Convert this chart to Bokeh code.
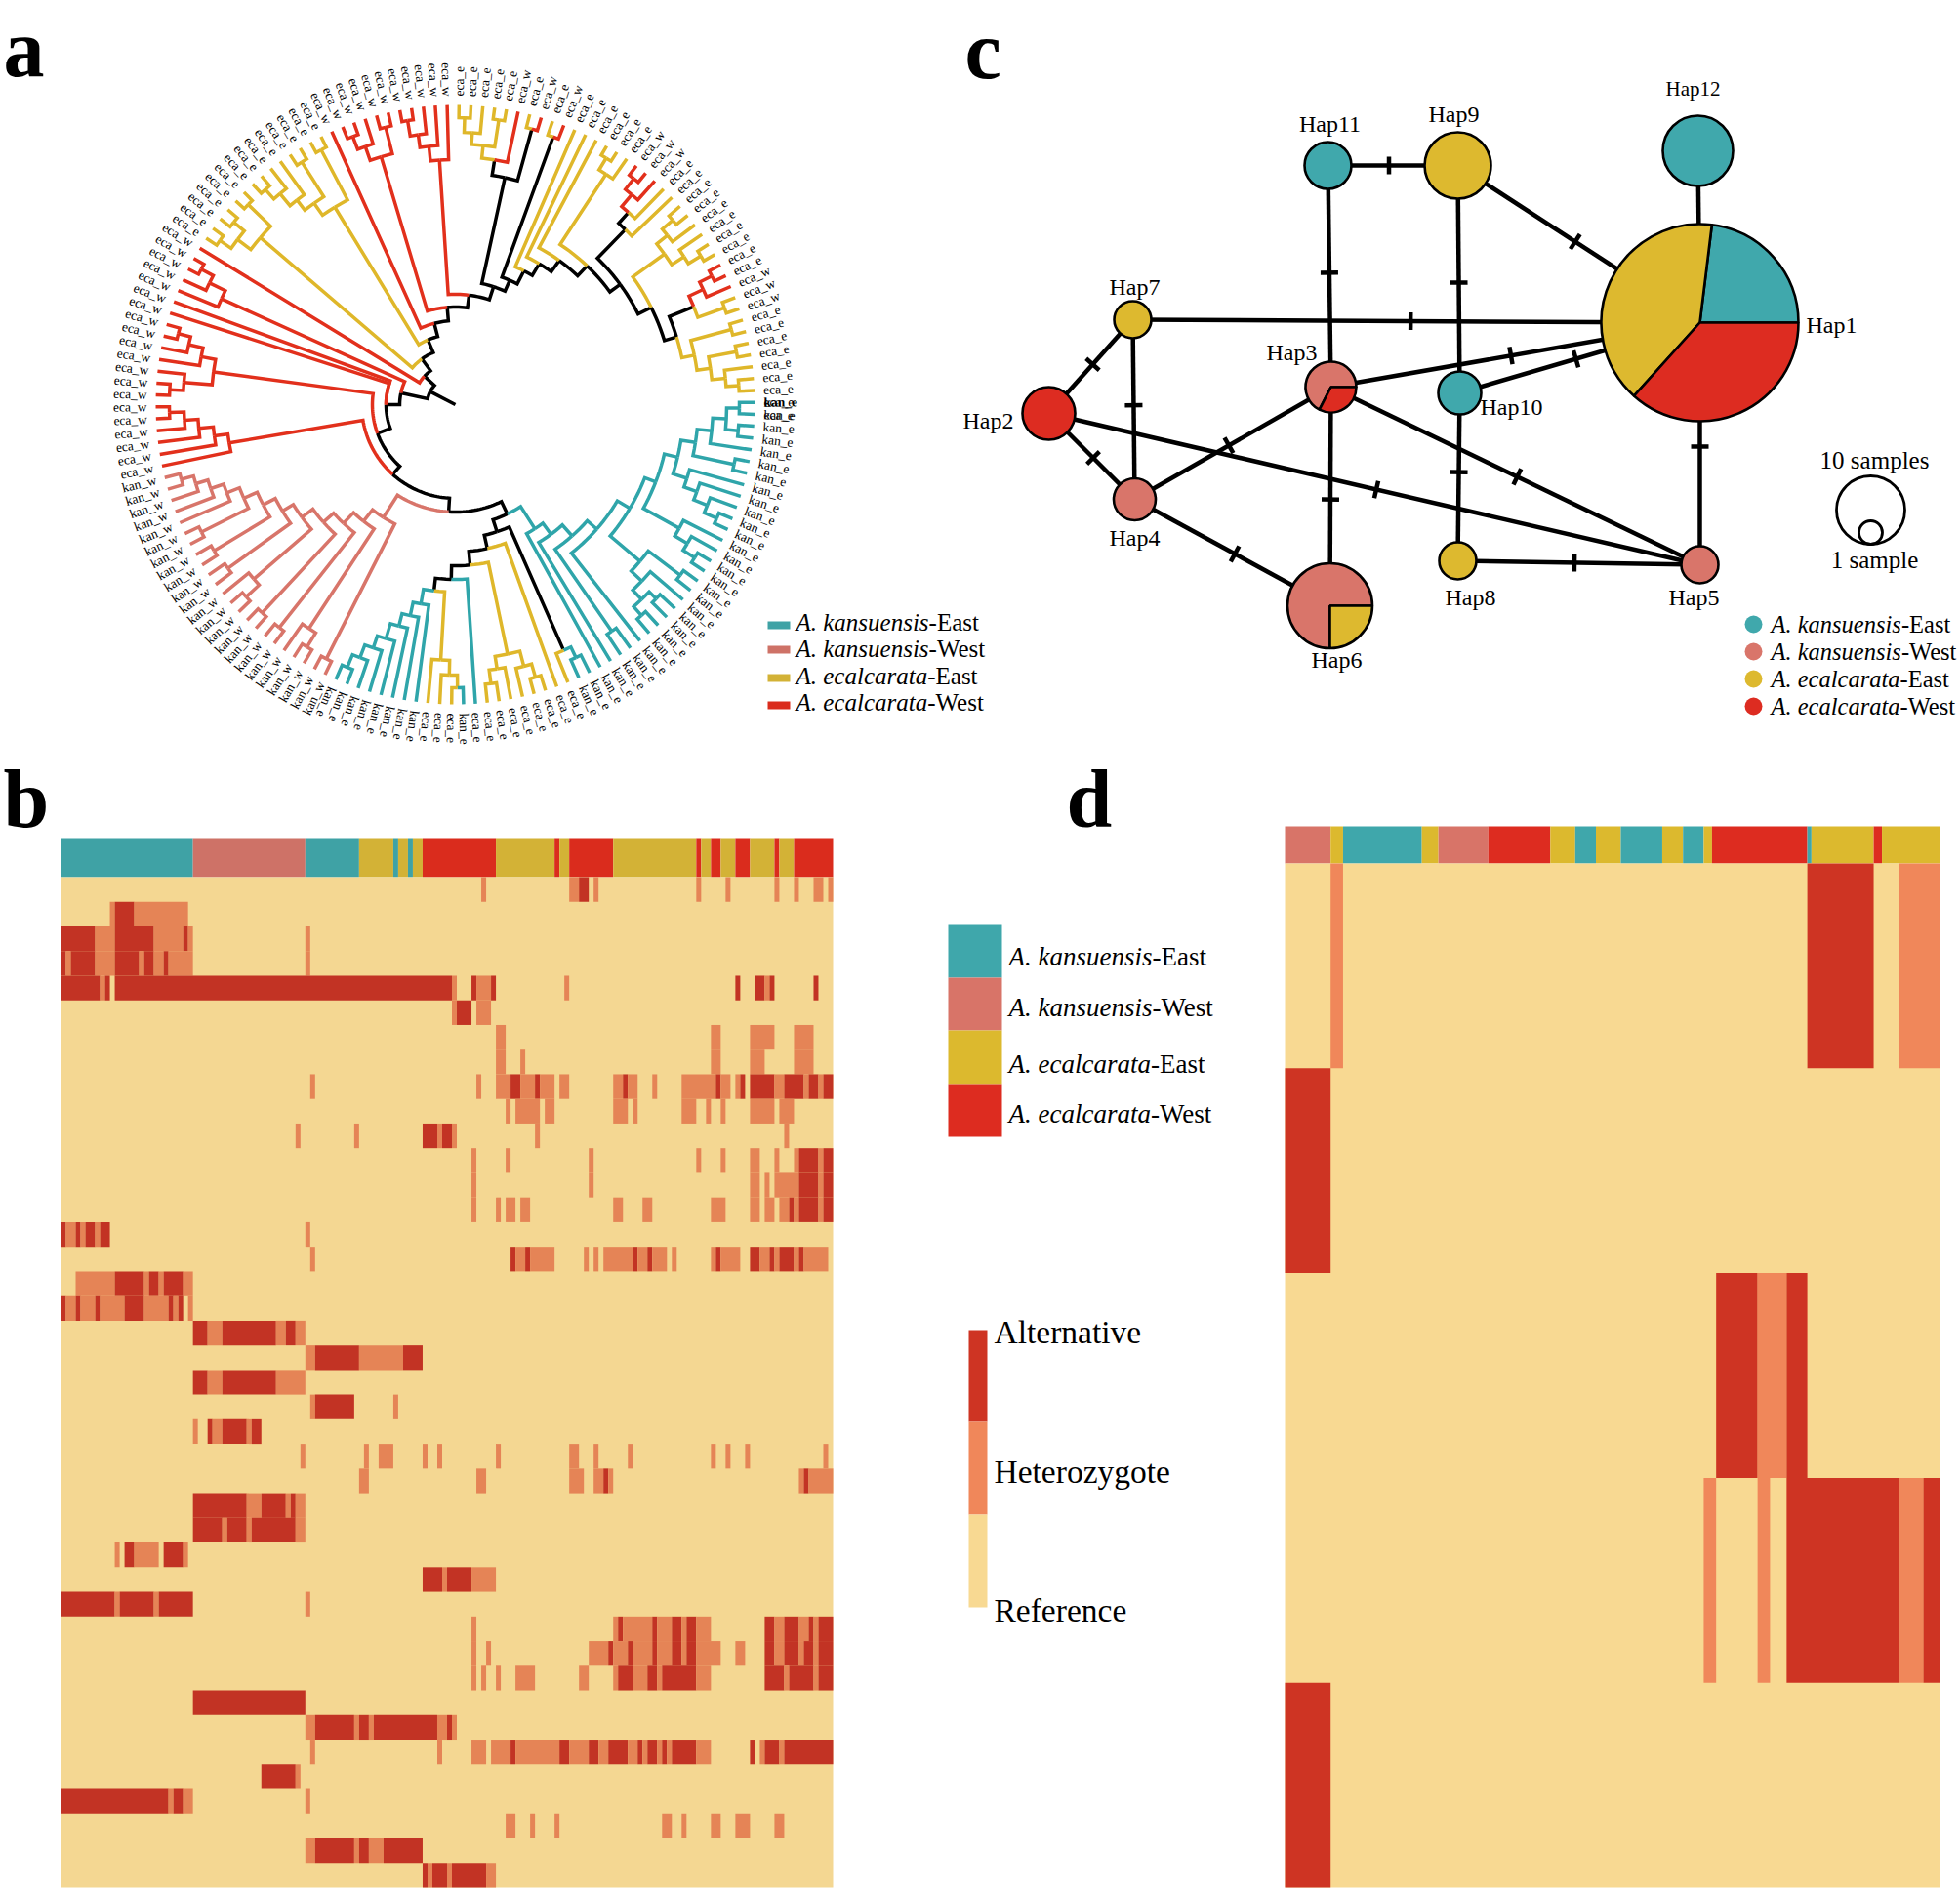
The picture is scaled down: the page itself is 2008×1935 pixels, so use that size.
import math
from bokeh.plotting import figure
from bokeh.models import Range1d
from bokeh.core.properties import value
from bokeh.embed import file_html
from bokeh.resources import INLINE

# ------------------------------------------------------------------ colours
TREE_COL = {"k": "#2FA5AA", "p": "#D8756A", "y": "#DFB72A", "r": "#E2301C", "b": "#000000"}
NET_COL = {"k": "#40A8AC", "p": "#D9756A", "y": "#DDB92F", "r": "#DD2C21"}
B_BAR_COL = {"k": "#3FA2A5", "p": "#CE7267", "y": "#D3B236", "r": "#DA2C1D"}
D_BAR_COL = {"k": "#3FA7AB", "p": "#D87468", "y": "#DCB92E", "r": "#DD2C20"}
B_STATE = {"R": "#F4D792", "H": "#E58456", "A": "#C23324"}
D_STATE = {"R": "#F8D992", "H": "#F0875A", "A": "#CE3423"}
SERIF = "Liberation Serif"

# ------------------------------------------------------------------ panel a: tree (depth, colour, children...; a bare colour is a leaf)
A_BLOCK = [264, "k", [278, "k", [291, "k", "k", "k"], [291, "k", "k", "k"]], "k"]
B_BLOCK = [249, "k", A_BLOCK, [292, "k", "k", "k"]]
D_BLOCK = [249, "k", "k", [263, "k", "k", [278, "k", "k", [292, "k", "k", "k"]]]]
E_BLOCK = [234, "k", B_BLOCK, D_BLOCK]
F_BLOCK = [262, "k", "k", [277, "k", "k", [291, "k", "k", "k"]]]
H_BLOCK = [248, "k", [289, "k", "k", "k"],
           [263, "k", "k", [276, "k", [286, "k", "k", "k"], [288, "k", "k", "k"]]]]
TEAL_MAIN = [151, "k",
             [165, "k",
              [180, "k",
               [193, "k",
                [208, "k", [220, "k", E_BLOCK, F_BLOCK], H_BLOCK],
                "k"],
               [282, "k", "k", "k"]],
              "k"],
             "k"]
N1_BLOCK = [275, "b", [287, "k", "k", "k"], "y"]
K_BLOCK = [261, "y",
           [277, "y", [291, "y", "y", "y"], "y"],
           [274, "y", "y", [288, "y", "y", "y"]]]
J_BLOCK = [262, "y", [277, "y", [290, "y", "k", "y"], "y"], "y"]
M_BLOCK = [207, "k", "k", [221, "k", "k", [234, "k", "k", [250, "k", "k",
           [263, "k", "k", [277, "k", "k", [291, "k", "k", "k"]]]]]]]
S2_BLOCK = [137, "b", N1_BLOCK,
            [151, "b", "y",
             [165, "b", K_BLOCK,
              [179, "b", "k",
               [192, "b", J_BLOCK, M_BLOCK]]]]]
PINK_MAIN = [137, "p", [292, "p", "p", "p"],
             [152, "p", [274, "p", [291, "p", "p", "p"], "p"],
              [167, "p", [291, "p", "p", "p"],
               [181, "p", [291, "p", "p", "p"],
                [195, "p", [273, "p", [291, "p", "p", "p"], "p"],
                 [208, "p", [287, "p", "p", "p"],
                  [222, "p", [289, "p", "p", "p"],
                   [237, "p", [291, "p", "p", "p"],
                    [251, "p", "p",
                     [265, "p", "p",
                      [278, "p", "p", [291, "p", "p", "p"]]]]]]]]]]]]
RED_COMB = [235, "r", "r", [249, "r", "r", [264, "r", "r", [278, "r", "r", [293, "r", "r", "r"]]]]]
RED_E = [250, "r", [279, "r", [293, "r", "r", "r"], "r"],
         [265, "r", "r", [280, "r", "r", [293, "r", "r", "r"]]]]
RED_B = [263, "r", "r", [281, "r", "r", [295, "r", "r", "r"]]]
LOWER = [57, "b",
         [71, "b",
          [85, "b",
           [96, "b",
            [110, "b", [124, "b", TEAL_MAIN, S2_BLOCK], PINK_MAIN],
            RED_COMB],
           RED_E],
          "r", "r"],
         RED_B]
Y1_BLOCK = [263, "y", [280, "y", [294, "y", "y", "y"], [294, "y", "y", "y"]], [295, "y", "y", "y"]]
Y2_BLOCK = [237, "y",
            [252, "y",
             [265, "y", [281, "y", [294, "y", "y", "y"], "y"], "y"],
             [294, "y", "y", "y"]],
            [295, "y", "y", "y"]]
W1_BLOCK = [265, "r", [280, "r", [294, "r", "r", "r"], "r"], [293, "r", "r", "r"]]
W2_BLOCK = [251, "r", [266, "r", [279, "r", [295, "r", "r", "r"], "r"], "r"], "r"]
PA_BLOCK = [238, "b",
            [254, "b",
             [267, "y", [279, "y", [294, "y", "y", "y"], "y"], [295, "y", "y", "y"]],
             "r"],
            [293, "b", "y", "r"]]
CY_BLOCK = [282, "y", [296, "y", "y", "y"], "y"]
MIX_BLOCK = [250, "b",
             [265, "b", [281, "r", [295, "r", "r", "r"], "r"], "y"],
             "y"]
C1_BLOCK = [264, "y",
            [278, "y", [292, "y", "y", "y"], "y"],
            [279, "y", "y", [294, "y", "y", "y"]]]
MIX2_BLOCK = [264, "b", [280, "r", [294, "r", "r", "r"], "r"], [293, "y", "y", "y"]]
C3_BLOCK = [250, "y", [293, "y", "y", "y"],
            [264, "y", [293, "y", "y", "y"], [278, "y", "y", [291, "y", "y", "y"]]]]
UPPER = [43, "b", "r",
         [58, "b", Y1_BLOCK,
          [72, "b", Y2_BLOCK,
           [86, "b", "r",
            [100, "b", W1_BLOCK,
             [113, "b", W2_BLOCK,
              [127, "b", PA_BLOCK,
               [139, "b", [292, "b", "y", "r"],
                [154, "b", "y",
                 [168, "b", "y",
                  [182, "b", "y",
                   [196, "b", CY_BLOCK,
                    [209, "b", MIX_BLOCK,
                     [224, "b", C1_BLOCK,
                      [237, "b", MIX2_BLOCK, C3_BLOCK]]]]]]]]]]]]]]]
TREE = [29, "b", LOWER, UPPER]
# labels, as runs of (text, count), clockwise from east
LABEL_RUNS = [("kan_e", 30), ("eca_e", 9), ("kan_e", 1), ("eca_e", 3), ("kan_e", 8), ("kan_w", 23),
              ("eca_w", 20), ("eca_e", 14), ("eca_w", 11), ("eca_e", 5), ("eca_w", 1), ("eca_e", 1),
              ("eca_w", 1), ("eca_e", 1), ("eca_w", 1), ("eca_e", 6), ("eca_w", 3), ("eca_e", 10),
              ("eca_w", 3), ("eca_e", 9)]
SPECIES = [("A. kansuensis", "-East", "k", "p"), ("A. kansuensis", "-West", "p", "p"),
           ("A. ecalcarata", "-East", "y", "y"), ("A. ecalcarata", "-West", "r", "r")]

# ------------------------------------------------------------------ panel b: heat map (start col, end col, state)
B_TOP = [("k", 0, 27), ("p", 27, 50), ("k", 50, 61), ("y", 61, 68), ("k", 68, 69), ("y", 69, 71), ("k", 71, 72),
         ("y", 72, 74), ("r", 74, 89), ("y", 89, 101), ("r", 101, 102), ("y", 102, 104), ("r", 104, 113),
         ("y", 113, 130), ("r", 130, 131), ("y", 131, 133), ("r", 133, 135), ("y", 135, 138), ("r", 138, 141),
         ("y", 141, 146), ("r", 146, 147), ("y", 147, 150), ("r", 150, 158)]
B_ROWS = [
 [(86,87,"H"),(104,106,"H"),(106,108,"A"),(109,110,"H"),(130,131,"H"),(136,137,"H"),(146,147,"H"),(150,151,"H"),(154,156,"H"),(157,158,"H")],
 [(10,11,"H"),(11,15,"A"),(15,26,"H")],
 [(0,7,"A"),(7,11,"H"),(11,19,"A"),(19,25,"H"),(25,26,"A"),(26,27,"H"),(50,51,"H")],
 [(0,1,"A"),(1,2,"H"),(2,7,"A"),(7,11,"H"),(11,16,"A"),(16,17,"H"),(17,19,"A"),(19,21,"H"),(21,22,"A"),(22,27,"H"),(50,51,"H")],
 [(0,8,"A"),(8,9,"H"),(9,10,"A"),(11,80,"A"),(80,81,"H"),(84,85,"A"),(85,88,"H"),(88,89,"A"),(103,104,"H"),(138,139,"A"),(142,144,"A"),(144,145,"H"),(145,146,"A"),(154,155,"A")],
 [(80,81,"H"),(81,84,"A"),(85,88,"H")],
 [(89,91,"H"),(133,135,"H"),(141,146,"H"),(150,154,"H")],
 [(89,91,"H"),(94,95,"H"),(133,135,"H"),(141,144,"H"),(150,154,"H")],
 [(51,52,"H"),(85,86,"H"),(89,92,"H"),(92,94,"A"),(94,97,"H"),(97,98,"A"),(98,101,"H"),(102,104,"H"),(113,115,"H"),(115,116,"A"),(116,118,"H"),(121,122,"H"),(127,134,"H"),(134,135,"A"),(135,137,"H"),(138,139,"H"),(139,140,"A"),(141,146,"A"),(146,148,"H"),(148,152,"A"),(152,153,"H"),(153,155,"A"),(155,156,"H"),(156,158,"A")],
 [(91,92,"H"),(93,98,"H"),(99,101,"H"),(113,116,"H"),(117,118,"H"),(127,130,"H"),(132,133,"H"),(135,136,"H"),(141,146,"H"),(147,150,"H")],
 [(48,49,"H"),(60,61,"H"),(74,77,"A"),(77,78,"H"),(78,80,"A"),(80,81,"H"),(97,98,"H"),(148,149,"H")],
 [(84,85,"H"),(91,92,"H"),(108,109,"H"),(130,131,"H"),(135,136,"H"),(141,143,"H"),(146,147,"H"),(150,151,"H"),(151,155,"A"),(155,156,"H"),(156,158,"A")],
 [(84,85,"H"),(108,109,"H"),(141,143,"H"),(144,145,"H"),(146,151,"H"),(151,155,"A"),(155,156,"H"),(156,158,"A")],
 [(84,85,"H"),(89,90,"H"),(91,93,"H"),(94,96,"H"),(113,115,"H"),(119,121,"H"),(133,136,"H"),(141,143,"H"),(144,146,"H"),(147,149,"H"),(149,150,"A"),(150,151,"H"),(151,155,"A"),(155,156,"H"),(156,158,"A")],
 [(0,1,"A"),(1,3,"H"),(3,4,"A"),(4,5,"H"),(5,7,"A"),(7,8,"H"),(8,10,"A"),(50,51,"H")],
 [(51,52,"H"),(92,93,"A"),(93,95,"H"),(95,96,"A"),(96,101,"H"),(107,108,"H"),(109,110,"H"),(111,117,"H"),(117,118,"A"),(118,120,"H"),(120,121,"A"),(121,124,"H"),(125,126,"H"),(133,134,"H"),(134,135,"A"),(135,139,"H"),(141,143,"A"),(143,145,"H"),(145,146,"A"),(146,147,"H"),(147,150,"A"),(150,151,"H"),(151,152,"A"),(152,157,"H")],
 [(3,11,"H"),(11,17,"A"),(17,18,"H"),(18,20,"A"),(20,21,"H"),(21,25,"A"),(25,27,"H")],
 [(0,1,"A"),(1,3,"H"),(3,4,"A"),(4,7,"H"),(7,8,"A"),(8,13,"H"),(13,17,"A"),(17,22,"H"),(22,23,"A"),(23,24,"H"),(24,25,"A"),(26,27,"H")],
 [(27,30,"A"),(30,33,"H"),(33,44,"A"),(44,46,"H"),(46,48,"A"),(48,50,"H")],
 [(50,52,"H"),(52,61,"A"),(61,70,"H"),(70,74,"A")],
 [(27,30,"A"),(30,33,"H"),(33,44,"A"),(44,50,"H")],
 [(51,52,"H"),(52,60,"A"),(68,69,"H")],
 [(27,28,"H"),(30,31,"A"),(31,33,"H"),(33,38,"A"),(38,39,"H"),(39,41,"A")],
 [(49,50,"H"),(62,63,"H"),(65,68,"H"),(74,75,"H"),(77,78,"H"),(89,90,"H"),(104,106,"H"),(109,110,"H"),(116,117,"H"),(133,134,"H"),(136,137,"H"),(140,141,"H"),(156,157,"H")],
 [(61,63,"H"),(85,87,"H"),(104,107,"H"),(109,111,"H"),(111,112,"A"),(112,113,"H"),(151,152,"H"),(152,153,"A"),(153,158,"H")],
 [(27,38,"A"),(38,41,"H"),(41,46,"A"),(46,47,"H"),(47,48,"A"),(48,50,"H")],
 [(27,33,"A"),(33,34,"H"),(34,38,"A"),(38,39,"H"),(39,48,"A"),(48,50,"H")],
 [(11,12,"H"),(13,15,"A"),(15,20,"H"),(21,25,"A"),(25,26,"H")],
 [(74,78,"A"),(78,79,"H"),(79,84,"A"),(84,89,"H")],
 [(0,11,"A"),(11,12,"H"),(12,19,"A"),(19,20,"H"),(20,27,"A"),(50,51,"H")],
 [(84,85,"H"),(113,114,"H"),(114,115,"A"),(115,121,"H"),(121,122,"A"),(122,125,"H"),(125,127,"A"),(127,128,"H"),(128,130,"A"),(130,133,"H"),(144,146,"A"),(146,148,"H"),(148,151,"A"),(151,153,"H"),(153,154,"A"),(154,155,"H"),(155,158,"A")],
 [(84,85,"H"),(87,88,"H"),(108,112,"H"),(112,113,"A"),(113,116,"H"),(116,117,"A"),(117,121,"H"),(121,122,"A"),(122,125,"H"),(125,127,"A"),(127,128,"H"),(128,130,"A"),(130,135,"H"),(138,140,"H"),(144,146,"A"),(146,148,"H"),(148,151,"A"),(151,152,"H"),(152,154,"A"),(154,155,"H"),(155,158,"A")],
 [(84,85,"H"),(86,87,"H"),(89,90,"H"),(93,97,"H"),(106,108,"H"),(113,114,"H"),(114,117,"A"),(117,120,"H"),(120,122,"A"),(122,123,"H"),(123,130,"A"),(130,133,"H"),(144,148,"A"),(148,149,"H"),(149,154,"A"),(154,155,"H"),(155,158,"A")],
 [(27,50,"A")],
 [(50,52,"H"),(52,60,"A"),(60,61,"H"),(61,63,"A"),(63,64,"H"),(64,77,"A"),(77,79,"H"),(79,80,"A"),(80,81,"H")],
 [(51,52,"H"),(77,78,"H"),(84,87,"H"),(88,92,"H"),(92,93,"A"),(93,102,"H"),(102,104,"A"),(104,108,"H"),(108,110,"A"),(110,112,"H"),(112,116,"A"),(116,118,"H"),(118,119,"A"),(119,120,"H"),(120,122,"A"),(122,123,"H"),(123,124,"A"),(124,125,"H"),(125,130,"A"),(130,133,"H"),(141,142,"A"),(143,144,"H"),(144,147,"A"),(147,148,"H"),(148,158,"A")],
 [(41,48,"A"),(48,49,"H")],
 [(0,22,"A"),(22,23,"H"),(23,25,"A"),(25,27,"H"),(50,51,"H")],
 [(91,93,"H"),(96,97,"H"),(101,102,"H"),(123,125,"H"),(127,128,"H"),(133,135,"H"),(138,141,"H"),(146,148,"H")],
 [(50,52,"H"),(52,60,"A"),(60,61,"H"),(61,63,"A"),(63,66,"H"),(66,74,"A")],
 [(74,75,"A"),(75,76,"H"),(76,79,"A"),(79,80,"H"),(80,87,"A"),(87,89,"H")],
]
B_COLS = 158

# ------------------------------------------------------------------ panel d: heat map
D_TOP = [("p", 0, 11), ("y", 11, 14), ("k", 14, 33), ("y", 33, 37), ("p", 37, 49), ("r", 49, 64), ("y", 64, 70),
         ("k", 70, 75), ("y", 75, 81), ("k", 81, 91), ("y", 91, 96), ("k", 96, 101), ("y", 101, 103), ("r", 103, 126),
         ("k", 126, 127), ("y", 127, 142), ("r", 142, 144), ("y", 144, 158)]
D_ROWS = [
 [(11,14,"H"),(126,142,"A"),(148,158,"H")],
 [(0,11,"A")],
 [(104,114,"A"),(114,121,"H"),(121,126,"A")],
 [(101,104,"H"),(114,117,"H"),(121,148,"A"),(148,154,"H"),(154,158,"A")],
 [(0,11,"A")],
]
D_COLS = 158

# ------------------------------------------------------------------ panel c: haplotype network
HAPS = ["Hap1", "Hap2", "Hap3", "Hap4", "Hap5", "Hap6", "Hap7", "Hap8", "Hap9", "Hap10", "Hap11", "Hap12"]
HAP_PIE = {"Hap1": [("k", 83), ("y", 145), ("r", 132)], "Hap2": [("r", 360)], "Hap3": [("p", 243), ("r", 117)],
           "Hap4": [("p", 360)], "Hap5": [("p", 360)], "Hap6": [("p", 270), ("y", 90)], "Hap7": [("y", 360)],
           "Hap8": [("y", 360)], "Hap9": [("y", 360)], "Hap10": [("k", 360)], "Hap11": [("k", 360)], "Hap12": [("k", 360)]}
HAP_EDGES = [("Hap11", "Hap9", .47), ("Hap9", "Hap1", .485), ("Hap12", "Hap1", None), ("Hap11", "Hap3", .484),
             ("Hap9", "Hap10", .515), ("Hap7", "Hap1", .49), ("Hap7", "Hap2", .477), ("Hap7", "Hap4", .476),
             ("Hap2", "Hap4", .517), ("Hap2", "Hap5", .503), ("Hap3", "Hap1", .488), ("Hap10", "Hap1", .484),
             ("Hap3", "Hap4", .52), ("Hap3", "Hap5", .505), ("Hap3", "Hap6", .514), ("Hap4", "Hap6", .513),
             ("Hap10", "Hap8", .472), ("Hap8", "Hap5", .482), ("Hap1", "Hap5", .512)]
# layout of the network on the page: node (x, y, radius), label (x, y)
NODE_POS = {"Hap1": (1741, 330, 101), "Hap2": (1074, 423, 27), "Hap3": (1363, 396, 26), "Hap4": (1162, 511, 21.5),
            "Hap5": (1741, 578, 19), "Hap6": (1362, 620, 43.5), "Hap7": (1160, 327, 19), "Hap8": (1493, 574, 19),
            "Hap9": (1493, 169, 34), "Hap10": (1495, 402, 22), "Hap11": (1360, 169, 24), "Hap12": (1739, 154, 36)}
LABEL_POS = {"Hap1": (1876, 332), "Hap2": (1012, 430), "Hap3": (1323, 360), "Hap4": (1162, 550), "Hap5": (1735, 611),
             "Hap6": (1369, 675), "Hap7": (1162, 293), "Hap8": (1506, 611), "Hap9": (1489, 116), "Hap10": (1548, 416),
             "Hap11": (1362, 126), "Hap12": (1734, 90)}

# ------------------------------------------------------------------ figure: one page-sized canvas, unit = picture pixel
p = figure(width=2008, height=1935, x_range=Range1d(0, 2008), y_range=Range1d(1935, 0),
           toolbar_location=None, output_backend="svg", min_border=0,
           x_axis_type=None, y_axis_type=None)
p.grid.visible = False
p.outline_line_color = None


def txt(xs, ys, strs, size, style="normal", align="left", baseline="middle", angle=0.0, color="#000000"):
    p.text(xs, ys, text=strs, text_font=value(SERIF), text_font_size=f"{size}px", text_font_style=style,
           text_align=align, text_baseline=baseline, angle=angle, text_color=color)


def species_text(x, y, italic, tail, size):
    w = (5.444 if "kansuensis" in italic else 5.388) * size
    txt([x], [y], [italic], size, style="italic")
    txt([x + w], [y], [tail], size)


# ---- panel a
CX, CY, TIP = 466.0, 414.0, 307.0
A0, DA = 0.43, 360.0 / 158


def px(r, deg):
    return CX + r * math.cos(math.radians(deg)), CY - r * math.sin(math.radians(deg))


leaf_count = [0]
tree_xs, tree_ys, tree_cols = [], [], []


def place(node):
    if isinstance(node, str):
        ang = A0 - DA * leaf_count[0]
        leaf_count[0] += 1
        return {"a": ang, "r": TIP, "c": node, "kids": []}
    r, c, *kids = node
    placed = [place(k) for k in kids]
    return {"a": (placed[0]["a"] + placed[-1]["a"]) / 2, "r": r, "c": c, "kids": placed}


def draw(n):
    for k in n["kids"]:
        steps = max(1, int(abs(k["a"] - n["a"]) / 1.5))
        pts = [px(n["r"], n["a"] + (k["a"] - n["a"]) * s / steps) for s in range(steps + 1)]
        pts.append(px(k["r"], k["a"]))
        tree_xs.append([q[0] for q in pts])
        tree_ys.append([q[1] for q in pts])
        tree_cols.append(TREE_COL[k["c"]])
        draw(k)


root = place(TREE)
draw(root)
q0, q1 = px(0, root["a"]), px(root["r"], root["a"])
tree_xs.append([q0[0], q1[0]])
tree_ys.append([q0[1], q1[1]])
tree_cols.append("#000000")
p.multi_line(tree_xs, tree_ys, line_color=tree_cols, line_width=3.5, line_join="miter", line_cap="butt")

labels = [s for s, n in LABEL_RUNS for _ in range(n)]
LR, RR = [], []
for i, s in enumerate(labels):
    a = A0 - DA * i
    x, y = px(316, a)
    if i == 0:
        continue
    if 51 <= i <= 118:
        RR.append((x, y, s, math.radians(a + 180)))
    else:
        LR.append((x, y, s, math.radians(a)))
txt([q[0] for q in LR], [q[1] for q in LR], [q[2] for q in LR], 13.5, align="left", angle=[q[3] for q in LR])
txt([q[0] for q in RR], [q[1] for q in RR], [q[2] for q in RR], 13.5, align="right", angle=[q[3] for q in RR])
x0, y0 = px(316, A0)
txt([x0], [y0], ["kan_e"], 13.5, style="bold", angle=math.radians(A0))

for (it, tail, c, _), yb, yt in zip(SPECIES, [640, 665, 694, 722], [637, 664, 692, 719]):
    p.quad(left=[786], right=[809], top=[yb - 4], bottom=[yb + 4], fill_color=B_BAR_COL[c], line_color=None)
    species_text(815, yt, it, tail, 25)

# ---- heat maps


def heat(x0, x1, bar_top, bar_bot, row_bot, top, rows, cols, bar_col, state_col):
    w = (x1 - x0) / cols
    h = (row_bot - bar_bot) / len(rows)
    p.quad(left=[x0 + s * w for _, s, _e in top], right=[x0 + e * w for _, _s, e in top],
           top=[bar_top] * len(top), bottom=[bar_bot] * len(top),
           fill_color=[bar_col[c] for c, _s, _e in top], line_color=None)
    p.quad(left=[x0], right=[x1], top=[bar_bot], bottom=[row_bot], fill_color=state_col["R"], line_color=None)
    L, R, T, B, C = [], [], [], [], []
    for i, row in enumerate(rows):
        for s, e, st in row:
            L.append(x0 + s * w)
            R.append(x0 + e * w)
            T.append(bar_bot + i * h)
            B.append(bar_bot + (i + 1) * h)
            C.append(state_col[st])
    p.quad(left=L, right=R, top=T, bottom=B, fill_color=C, line_color=None)


heat(62, 853, 858, 898, 1933, B_TOP, B_ROWS, B_COLS, B_BAR_COL, B_STATE)
heat(1316, 1987, 846, 884, 1933, D_TOP, D_ROWS, D_COLS, D_BAR_COL, D_STATE)

# legend of b
for (it, tail, c, _), yt, y0_, y1_ in zip(SPECIES, [979, 1031, 1089, 1140], [947, 1001, 1055, 1110], [1001, 1055, 1110, 1164]):
    p.quad(left=[971], right=[1026], top=[y0_], bottom=[y1_], fill_color=D_BAR_COL[c], line_color=None)
    species_text(1033, yt, it, tail, 27)
for st, name, y0_, y1_, yt in [("A", "Alternative", 1362, 1456, 1364), ("H", "Heterozygote", 1456, 1551, 1507),
                               ("R", "Reference", 1551, 1646, 1649)]:
    p.quad(left=[992], right=[1011], top=[y0_], bottom=[y1_], fill_color=D_STATE[st], line_color=None)
    txt([1018], [yt], [name], 33.5)

# ---- panel c
for a, b, t in HAP_EDGES:
    xa, ya, _ = NODE_POS[a]
    xb, yb, _ = NODE_POS[b]
    p.line([xa, xb], [ya, yb], line_color="#000000", line_width=4.5)
    if t is not None:
        mx, my = xa + (xb - xa) * t, ya + (yb - ya) * t
        d = math.hypot(xb - xa, yb - ya)
        nx, ny = -(yb - ya) / d, (xb - xa) / d
        p.line([mx - 9 * nx, mx + 9 * nx], [my - 9 * ny, my + 9 * ny], line_color="#000000", line_width=4.5)

for h in HAPS:
    x, y, r = NODE_POS[h]
    parts = HAP_PIE[h]
    if len(parts) == 1:
        p.circle([x], [y], radius=r, fill_color=NET_COL[parts[0][0]], line_color="#000000", line_width=2.6)
    else:
        start = 0.0
        for c, deg in parts:
            p.wedge([x], [y], radius=r, start_angle=math.radians(start), end_angle=math.radians(start + deg),
                    fill_color=NET_COL[c], line_color="#000000", line_width=2.6)
            start += deg
    lx, ly = LABEL_POS[h]
    txt([lx], [ly], [h], 21 if h == "Hap12" else 24, align="center")

# size key
txt([1920], [471], ["10 samples"], 25, align="center")
txt([1920], [573], ["1 sample"], 25, align="center")
p.circle([1916], [522], radius=35, fill_color=None, line_color="#000000", line_width=2.8)
p.circle([1916], [545], radius=12, fill_color=None, line_color="#000000", line_width=2.8)

# legend of c
for (it, tail, c, _), y in zip(SPECIES, [639, 667, 695, 723]):
    p.circle([1796], [y], radius=9, fill_color=NET_COL[c], line_color=None)
    species_text(1814, y, it, tail, 24.5)

# panel letters
txt([3], [49], ["a"], 84, style="bold")
txt([3], [818], ["b"], 84, style="bold")
txt([988], [51], ["c"], 84, style="bold")
txt([1092], [818], ["d"], 84, style="bold")

open("out.html", "w").write(file_html(p, INLINE))
